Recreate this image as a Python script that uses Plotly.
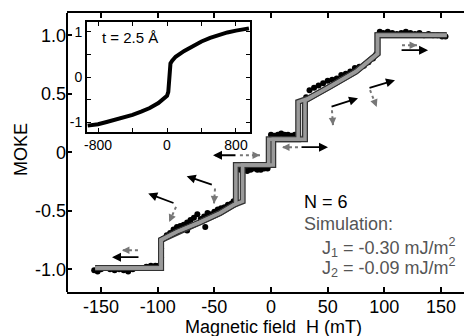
import plotly.graph_objects as go

# ---------------- data ----------------
# simulation, field increasing
sim_up_H = [-155, -97, -97, -83, -63, -45, -33, -25, -25, 2, 2, 30, 30, 52, 75, 94, 94, 155]
sim_up_M = [-0.99, -0.99, -0.75, -0.68, -0.60, -0.52, -0.45, -0.42, -0.11, -0.11, 0.11, 0.11, 0.44, 0.56, 0.69, 0.84, 1.0, 1.0]
# simulation, field decreasing
sim_dn_H = [155, 94, 94, 75, 52, 33, 24, 24, -2, -2, -31, -31, -45, -63, -83, -97, -97, -155]
sim_dn_M = [1.0, 1.0, 0.84, 0.69, 0.56, 0.46, 0.43, 0.11, 0.11, -0.11, -0.11, -0.44, -0.52, -0.60, -0.68, -0.75, -0.99, -0.99]

# measured MOKE points
data_H = [-156, -153, -150, -146, -142, -138, -134, -130, -126, -122, -118, -114, -110, -106, -102, -99,
          -97, -97,
          -95, -92, -89, -86, -83, -80, -77, -74, -71, -68, -65, -62, -59, -56, -53, -50, -47, -44, -41, -38, -35, -33,
          -74, -58,
          -30, -27, -24, -21, -18, -15, -12, -9, -6, -3,
          0, 3, 6, 9, 12, 15, 18, 21, 24,
          31, 34, 38, 42, 46, 50, 54, 58, 62, 66, 70, 74, 78, 82, 86, 90, 93,
          96, 99, 103, 107, 111, 115, 119, 123, 127, 131, 135, 139, 143, 147, 151, 154]
data_M = [-1.01, -1.02, -1.0, -0.99, -1.0, -1.01, -1.0, -1.01, -1.02, -1.0, -0.99, -0.99, -0.98, -0.97, -0.97, -0.97,
          -0.9, -0.82,
          -0.74, -0.71, -0.69, -0.66, -0.64, -0.63, -0.62, -0.60, -0.58, -0.56, -0.53, -0.57, -0.55, -0.52, -0.53, -0.51, -0.49, -0.48, -0.47, -0.45, -0.44, -0.42,
          -0.67, -0.64,
          -0.14, -0.15, -0.15, -0.16, -0.15, -0.14, -0.15, -0.15, -0.14, -0.14,
          0.15, 0.14, 0.15, 0.16, 0.15, 0.15, 0.14, 0.15, 0.14,
          0.47, 0.53, 0.55, 0.57, 0.59, 0.61, 0.62, 0.63, 0.66, 0.67, 0.69, 0.72, 0.73, 0.74, 0.77, 0.80, 0.84,
          1.03, 1.02, 1.03, 1.02, 1.01, 1.02, 1.03, 1.02, 1.01, 1.02, 1.0, 1.01, 1.0, 1.0, 0.99, 0.99]

# inset (t = 2.5 A)
inset_H = [-920, -800, -700, -600, -500, -400, -300, -200, -100, -30, 0, 15, 25, 40, 60, 100, 200, 300, 400, 500, 600, 700, 800, 900, 950]
inset_M = [-1.08, -1.05, -1.0, -0.95, -0.9, -0.84, -0.77, -0.69, -0.58, -0.48, -0.42, -0.33, 0.0, 0.3, 0.36, 0.45, 0.58, 0.69, 0.79, 0.87, 0.94, 0.99, 1.03, 1.07, 1.08]

x_ticks = [-150, -100, -50, 0, 50, 100, 150]
x_tick_labels = ["-150", "-100", "-50", "0", "50", "100", "150"]
y_ticks = [1.0, 0.5, 0, -0.5, -1.0]
y_tick_labels = ["1.0", "0.5", "0", "-0.5", "-1.0"]
inset_x_ticks = [-800, -400, 0, 400, 800]
inset_x_labels = ["-800", "", "0", "", "800"]
inset_y_ticks = [-1, -0.5, 0, 0.5, 1]
inset_y_labels = ["-1", "", "0", "", "1"]

# arrows: (tail_H, tail_M, tip_H, tip_M)
black_arrows = [(-115.6, -0.897, -140.3, -0.897),
                (-30.0, -0.026, -51.2, -0.026),
                (25.6, 0.043, 50.3, 0.043),
                (113.9, 0.872, 138.6, 0.872),
                (52.1, 0.385, 76.8, 0.462),
                (85.6, 0.547, 109.4, 0.615),
                (-84.7, -0.439, -108.3, -0.353),
                (-50.9, -0.282, -74.4, -0.205)]
gray_arrows = [(-117.4, -0.838, -131.5, -0.838),
               (-27.4, -0.026, -9.7, -0.026),
               (23.8, 0.043, 9.7, 0.043),
               (115.6, 0.915, 128.9, 0.915),
               (53.8, 0.359, 54.7, 0.231),
               (87.4, 0.530, 93.3, 0.387),
               (-83.8, -0.467, -89.8, -0.596),
               (-49.4, -0.310, -50.3, -0.438)]

FONT = "Liberation Sans, Arial, Helvetica, sans-serif"

fig = go.Figure()
fig.add_trace(go.Scatter(x=data_H, y=data_M, mode="markers",
                         marker=dict(color="black", size=6), showlegend=False, hoverinfo="skip"))
for H, M in ((sim_up_H, sim_up_M), (sim_dn_H, sim_dn_M)):
    fig.add_trace(go.Scatter(x=H, y=M, mode="lines", line=dict(color="#333333", width=6),
                             showlegend=False, hoverinfo="skip"))
for H, M in ((sim_up_H, sim_up_M), (sim_dn_H, sim_dn_M)):
    fig.add_trace(go.Scatter(x=H, y=M, mode="lines", line=dict(color="#9a9a9a", width=3.5),
                             showlegend=False, hoverinfo="skip"))
fig.add_trace(go.Scatter(x=inset_H, y=inset_M, mode="lines", xaxis="x2", yaxis="y2",
                         line=dict(color="black", width=4), showlegend=False, hoverinfo="skip"))

shapes = []
annotations = []
for (tx, ty, hx, hy) in black_arrows:
    annotations.append(dict(x=hx, y=hy, ax=tx, ay=ty, xref="x", yref="y", axref="x", ayref="y",
                            text="", showarrow=True, arrowhead=2, arrowsize=1, arrowwidth=1.8,
                            arrowcolor="black"))
for (tx, ty, hx, hy) in gray_arrows:
    shapes.append(dict(type="line", xref="x", yref="y", x0=tx, y0=ty, x1=hx, y1=hy,
                       line=dict(color="#777777", width=2, dash="dot")))
    mx = hx + (tx - hx) * 0.3
    my = hy + (ty - hy) * 0.3
    annotations.append(dict(x=hx, y=hy, ax=mx, ay=my, xref="x", yref="y", axref="x", ayref="y",
                            text="", showarrow=True, arrowhead=2, arrowsize=1, arrowwidth=1.5,
                            arrowcolor="#777777"))

# left spine of main plot (right side has ticks only)
shapes.append(dict(type="line", xref="paper", yref="paper", x0=0, x1=0, y0=0, y1=1,
                   line=dict(color="black", width=2)))

annotations += [
    dict(x=27.4, y=-0.427, xref="x", yref="y", text="N = 6", showarrow=False, xanchor="left",
         font=dict(size=18, color="black", family=FONT)),
    dict(x=27.4, y=-0.61, xref="x", yref="y", text="Simulation:", showarrow=False, xanchor="left",
         font=dict(size=18, color="#555555", family=FONT)),
    dict(x=43.5, y=-0.815, xref="x", yref="y", text="J<sub>1</sub> = -0.30 mJ/m<sup>2</sup>",
         showarrow=False, xanchor="left", font=dict(size=18, color="#555555", family=FONT)),
    dict(x=43.5, y=-0.985, xref="x", yref="y", text="J<sub>2</sub> = -0.09 mJ/m<sup>2</sup>",
         showarrow=False, xanchor="left", font=dict(size=18, color="#555555", family=FONT)),
    dict(x=-777, y=0.867, xref="x2", yref="y2", text="t = 2.5 Å", showarrow=False, xanchor="left",
         font=dict(size=15, color="black", family=FONT)),
    dict(x=0.512, y=-0.127, xref="paper", yref="paper", text="Magnetic field  H (mT)",
         showarrow=False, xanchor="center", yanchor="middle",
         font=dict(size=18, color="black", family=FONT)),
    dict(x=-0.114, y=0.509, xref="paper", yref="paper", text="MOKE", textangle=-90,
         showarrow=False, xanchor="center", yanchor="middle",
         font=dict(size=18, color="black", family=FONT)),
]

# the page body has an 8px default margin; size the figure so the plot lands where the reference has it
fig.update_layout(
    width=464, height=328,
    margin=dict(l=59, r=2, t=5, b=44),
    paper_bgcolor="white", plot_bgcolor="white",
    font=dict(family=FONT, color="black"),
    showlegend=False,
    xaxis=dict(range=[-180, 175.6], tickvals=x_ticks, ticktext=x_tick_labels,
               ticks="inside", ticklen=5, tickwidth=1.5, tickcolor="black",
               showline=True, linewidth=2, linecolor="black", mirror="ticks",
               showgrid=False, zeroline=False, tickfont=dict(size=18), ticklabelstandoff=-3),
    yaxis=dict(range=[-1.195, 1.19], tickvals=y_ticks, ticktext=y_tick_labels,
               ticks="inside", ticklen=5, tickwidth=1.5, tickcolor="black",
               showline=False, mirror="ticks",
               showgrid=False, zeroline=False, tickfont=dict(size=18)),
    xaxis2=dict(domain=[0.0496, 0.454], anchor="y2", range=[-928, 962],
                tickvals=inset_x_ticks, ticktext=inset_x_labels,
                ticks="inside", ticklen=4, tickwidth=1.2, tickcolor="black",
                showline=True, linewidth=2, linecolor="black", mirror="ticks",
                showgrid=False, zeroline=False, tickfont=dict(size=14)),
    yaxis2=dict(domain=[0.5746, 0.969], anchor="x2", range=[-1.215, 1.23],
                tickvals=inset_y_ticks, ticktext=inset_y_labels,
                ticks="inside", ticklen=4, tickwidth=1.2, tickcolor="black",
                showline=True, linewidth=2, linecolor="black", mirror="ticks",
                showgrid=False, zeroline=False, tickfont=dict(size=14)),
    shapes=shapes,
    annotations=annotations,
)

fig.write_html("out.html")
